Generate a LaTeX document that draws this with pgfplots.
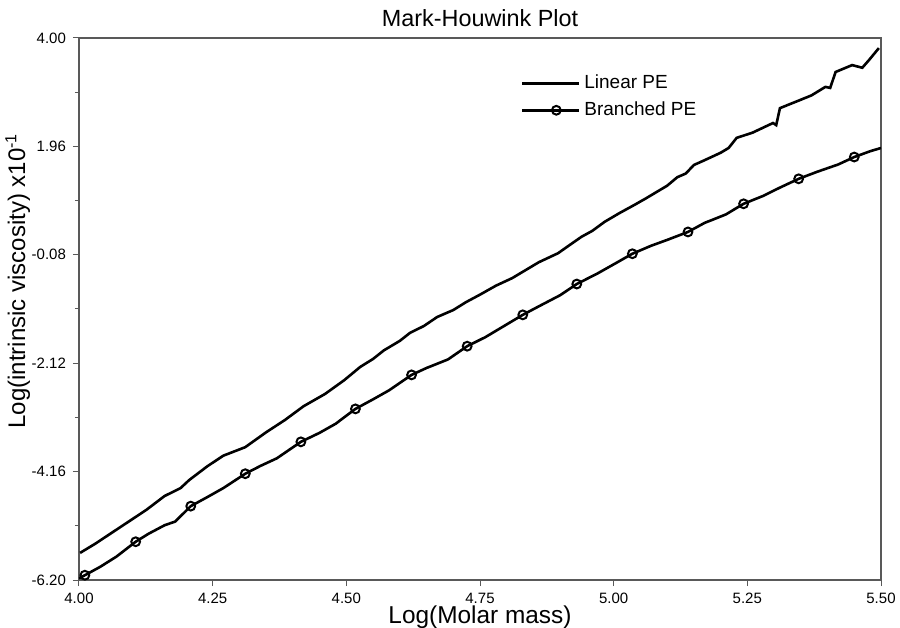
\documentclass[border=0pt]{standalone}
\usepackage{pgfplots}
\pgfplotsset{compat=1.18}
\usepackage{fontspec}
\setmainfont{Liberation Sans}

\pgfplotstableread{
x y
4.002 -5.69
4.03 -5.52
4.063 -5.30
4.09 -5.12
4.126 -4.88
4.16 -4.62
4.19 -4.47
4.206 -4.32
4.24 -4.06
4.27 -3.86
4.311 -3.70
4.35 -3.42
4.385 -3.19
4.42 -2.93
4.46 -2.70
4.496 -2.44
4.526 -2.19
4.55 -2.04
4.57 -1.88
4.60 -1.70
4.619 -1.55
4.645 -1.42
4.67 -1.25
4.70 -1.12
4.724 -0.97
4.75 -0.83
4.78 -0.66
4.81 -0.52
4.835 -0.37
4.86 -0.22
4.896 -0.05
4.92 0.12
4.94 0.26
4.96 0.37
4.983 0.54
5.01 0.70
5.039 0.86
5.06 0.98
5.08 1.10
5.10 1.22
5.119 1.38
5.135 1.45
5.150 1.61
5.17 1.70
5.200 1.84
5.215 1.93
5.230 2.12
5.26 2.22
5.298 2.40
5.304 2.36
5.311 2.68
5.348 2.83
5.37 2.92
5.396 3.08
5.405 3.06
5.415 3.36
5.446 3.49
5.465 3.44
5.478 3.59
5.496 3.81
}\linear

\pgfplotstableread{
x y
4.00 -6.17
4.011 -6.11
4.04 -5.95
4.07 -5.76
4.106 -5.48
4.13 -5.33
4.16 -5.17
4.18 -5.10
4.209 -4.81
4.24 -4.64
4.27 -4.47
4.311 -4.20
4.34 -4.05
4.37 -3.91
4.415 -3.60
4.45 -3.43
4.48 -3.26
4.517 -2.98
4.55 -2.80
4.58 -2.63
4.622 -2.34
4.65 -2.21
4.69 -2.05
4.726 -1.80
4.76 -1.63
4.79 -1.45
4.830 -1.21
4.86 -1.05
4.90 -0.84
4.931 -0.63
4.97 -0.43
5.00 -0.26
5.035 -0.06
5.07 0.09
5.10 0.20
5.139 0.35
5.17 0.52
5.21 0.68
5.243 0.88
5.28 1.03
5.31 1.18
5.346 1.35
5.38 1.48
5.42 1.62
5.450 1.76
5.48 1.87
5.50 1.93
}\branched

\begin{document}
\begin{tikzpicture}
\begin{axis}[
    name=ax,
    scale only axis,
    width=401pt, height=271pt,
    xmin=4, xmax=5.5,
    ymin=-6.2, ymax=4,
    xtick={4,4.25,...,5.5},
    ytick={-6.2,-4.16,-2.12,-0.08,1.96,4},
    minor y tick num=1,
    tick align=outside,
    major tick length=3pt,
    minor tick length=2pt,
    xtick pos=bottom, ytick pos=left,
    axis line style={gray!70!black, line width=0.6pt},
    tick style={gray!70!black, line width=0.5pt},
    /pgf/number format/assume math mode=true,
    /pgf/number format/fixed,
    /pgf/number format/fixed zerofill,
    /pgf/number format/precision=2,
    ticklabel style={font=\fontsize{7.5}{9}\selectfont},
    title={Mark-Houwink Plot},
    title style={font=\fontsize{11.7}{13}\selectfont, yshift=-4pt},
    xlabel={Log(Molar mass)},
    xlabel style={font=\fontsize{12.2}{14}\selectfont, yshift=6pt},
    ylabel={Log(intrinsic viscosity) x10\textsuperscript{-1}},
    ylabel style={font=\fontsize{12}{14}\selectfont, yshift=-6pt, xshift=14pt},
    legend style={draw=none, fill=none, at={(0.543,0.947)}, anchor=north west,
        font=\fontsize{9.5}{11}\selectfont, row sep=1pt,
        /tikz/every even column/.append style={column sep=0pt}},
    legend cell align=left,
    legend image code/.code={
        \draw[#1, mark indices={2}] plot coordinates {(0cm,0cm) (0.6cm,0cm) (1cm,0cm)};
    },
]
\addplot[black, line width=1.3pt, no markers] table {\linear};
\addlegendentry{Linear PE}
\addplot[black, line width=1.3pt, mark=o,
    mark options={line width=1pt, scale=1.1},
    mark indices={2,5,9,12,15,18,21,24,27,30,33,36,39,42,45}] table {\branched};
\addlegendentry{Branched PE}
\end{axis}
\pgfresetboundingbox
\path[use as bounding box] ([shift={(-39.5pt,-23.5pt)}]ax.south west) rectangle ([shift={(9.5pt,19pt)}]ax.north east);
\end{tikzpicture}
\end{document}
